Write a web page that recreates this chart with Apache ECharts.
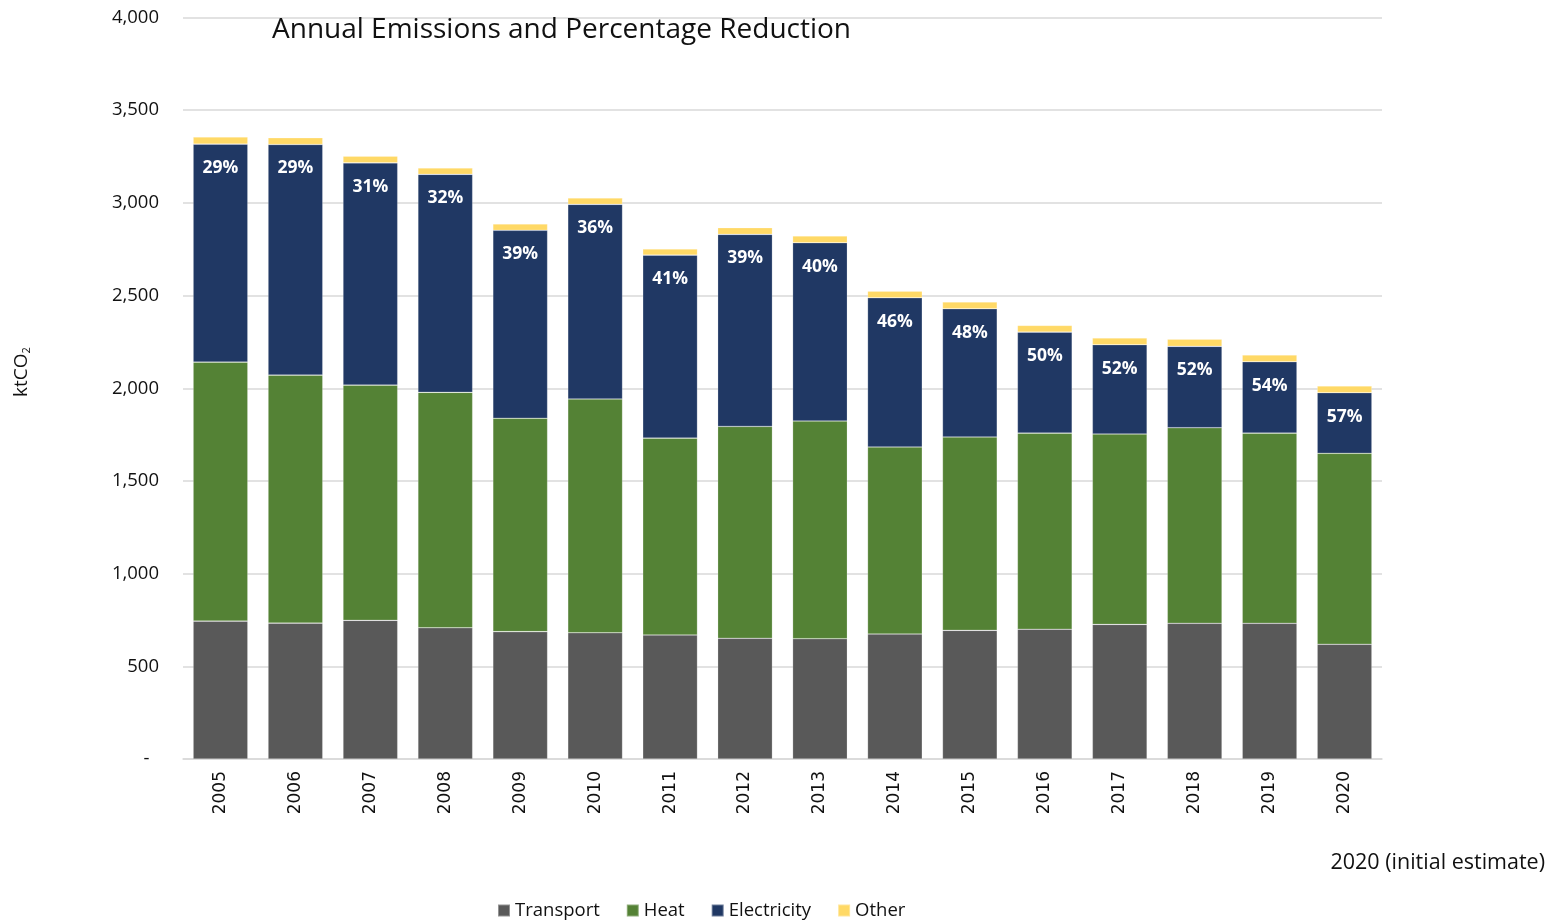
<!DOCTYPE html>
<html>
<head>
<meta charset="utf-8">
<script src="https://cdn.jsdelivr.net/npm/echarts@6/dist/echarts.min.js"></script>
<style>
html,body{margin:0;padding:0;background:#fff;}
#chart{width:1551px;height:921px;}
</style>
</head>
<body>
<div id="chart"></div>
<script>
const years = ['2005','2006','2007','2008','2009','2010','2011','2012','2013','2014','2015','2016','2017','2018','2019','2020'];
const transport = [744,733,748,708,687,681,669,651,649,674,694,700,726,732,732,619];
const heat = [1397,1338,1269,1270,1151,1261,1062,1143,1174,1009,1043,1058,1027,1055,1026,1030];
const electricity = [1176,1244,1199,1176,1014,1050,987,1036,962,805,692,545,482,439,385,327];
const other = [38,36,36,34,34,34,33,36,36,36,36,36,36,39,36,36];
const reduction = ['29%','29%','31%','32%','39%','36%','41%','39%','40%','46%','48%','50%','52%','52%','54%','57%'];

const baseFont = 'Open Sans';
const chart = echarts.init(document.getElementById('chart'));
const segStyle = (c) => ({color: c, borderColor: 'rgba(255,255,255,0.35)', borderWidth: 0.6});
chart.setOption({
  animation: false,
  backgroundColor: '#ffffff',
  title: {
    text: 'Annual Emissions and Percentage Reduction',
    left: 267, top: 11,
    textStyle: {fontFamily: baseFont, fontSize: 28, fontWeight: 'normal', color: '#111'}
  },
  graphic: [
    {
      type: 'text', right: 6, top: 852,
      style: {text: '2020 (initial estimate)', font: '21.5px "Open Sans"', fill: '#111'}
    },
    {
      type: 'text', x: 22, y: 372, rotation: Math.PI / 2,
      style: {
        text: '{a|ktCO}{b|2}', align: 'center', verticalAlign: 'middle',
        rich: {
          a: {fontFamily: baseFont, fontSize: 19, fill: '#111', color: '#111'},
          b: {fontFamily: baseFont, fontSize: 11, fill: '#111', color: '#111', padding: [10, 0, 0, 0]}
        }
      }
    }
  ],
  legend: {
    left: 492, top: 896,
    icon: 'rect', itemWidth: 12, itemHeight: 12, itemGap: 26,
    textStyle: {fontFamily: baseFont, fontSize: 18.5, color: '#111'},
    data: ['Transport','Heat','Electricity','Other']
  },
  grid: {left: 183, right: 169, top: 17.5, bottom: 162, containLabel: false},
  xAxis: {
    type: 'category', data: years,
    axisLine: {lineStyle: {color: '#d9d9d9', width: 1.5}},
    axisTick: {show: false},
    axisLabel: {rotate: 90, margin: 12, fontFamily: 'DejaVu Sans', fontSize: 17, color: '#111'}
  },
  yAxis: {
    type: 'value', min: 0, max: 4000, interval: 500,
    axisLine: {show: false}, axisTick: {show: false},
    splitLine: {lineStyle: {color: '#d9d9d9', width: 1.5}},
    axisLabel: {margin: 24, fontFamily: baseFont, fontSize: 18.5, color: '#111',
      formatter: v => v === 0 ? '-  ' : v.toLocaleString('en-US')}
  },
  series: [
    {name: 'Transport', type: 'bar', stack: 't', data: transport, barCategoryGap: '27%', itemStyle: segStyle('#595959')},
    {name: 'Heat', type: 'bar', stack: 't', data: heat, itemStyle: segStyle('#548235')},
    {name: 'Electricity', type: 'bar', stack: 't', data: electricity, itemStyle: segStyle('#203864'),
      label: {show: true, position: 'insideTop', distance: 15,
        formatter: p => reduction[p.dataIndex],
        color: '#ffffff', fontWeight: 'bold', fontFamily: baseFont, fontSize: 17.5}},
    {name: 'Other', type: 'bar', stack: 't', data: other, itemStyle: segStyle('#FFD966')}
  ]
});
</script>
</body>
</html>
